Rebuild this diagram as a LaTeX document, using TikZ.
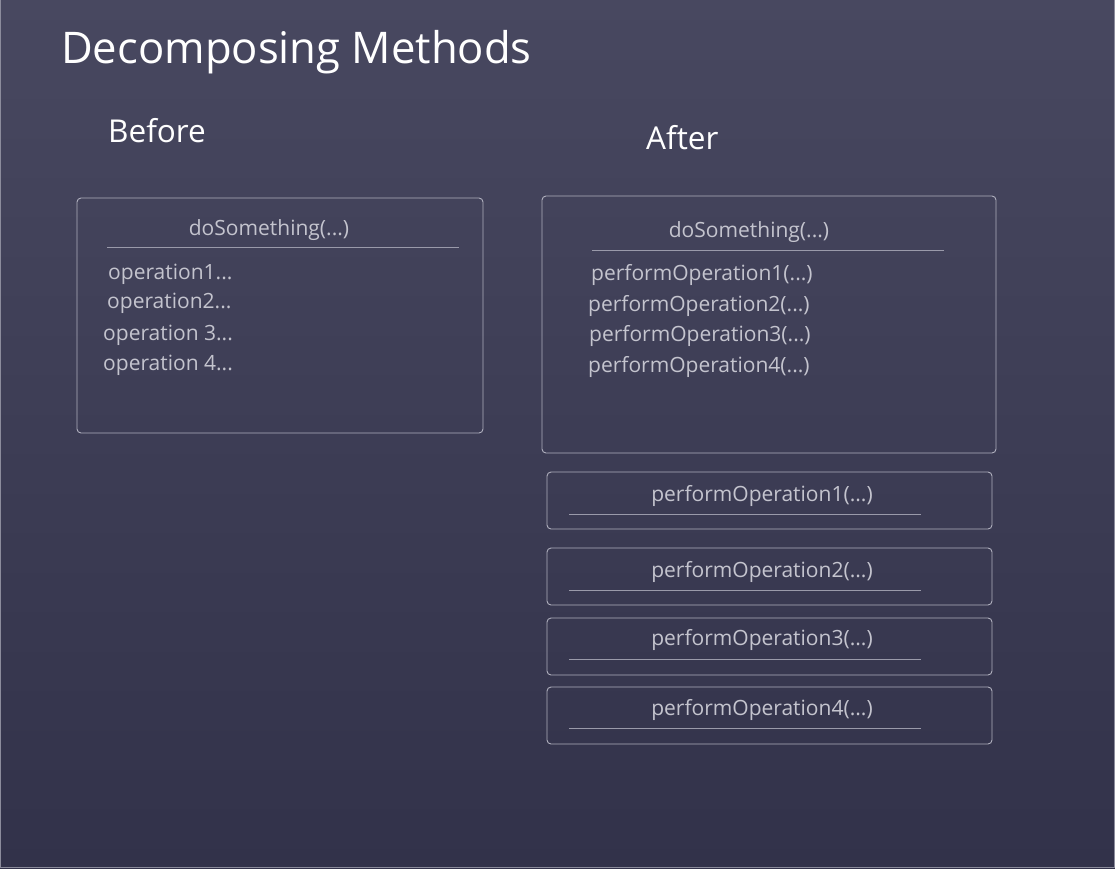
\documentclass[tikz,border=0pt]{standalone}
\usepackage{fontspec}
\setmainfont{Open Sans}
\definecolor{bgtop}{HTML}{484860}
\definecolor{bgbot}{HTML}{32324A}
\definecolor{boxline}{HTML}{B0B0BE}
\definecolor{sepline}{HTML}{9A9AAA}
\definecolor{txt}{HTML}{C4C4CE}
\definecolor{edge}{HTML}{8C8C9C}
\tikzset{
  panel/.style={draw=boxline, line width=0.9pt, rounded corners=4pt, inner sep=0pt, outer sep=0pt, anchor=north west},
  sep/.style={draw=sepline, line width=0.9pt},
  body/.style={text=txt, inner sep=0pt, font=\fontsize{21}{25}\selectfont},
  head/.style={text=white, inner sep=0pt, font=\fontsize{31.5}{36}\selectfont},
}
\begin{document}
\begin{tikzpicture}[x=1pt,y=-1pt]
\useasboundingbox (0,0) rectangle (1115,868);
\shade[top color=bgtop, bottom color=bgbot] (0,0) rectangle (1115,868);
\draw[edge, line width=1.2pt] (0.6,0) -- (0.6,867.4) -- (1114.4,867.4) -- (1114.4,0);

\node[text=white, inner sep=0pt, anchor=base west, font=\fontsize{43.6}{50}\selectfont] (title) at (61,63) {Decomposing Methods};
\node[head, anchor=base west] (before) at (108,142) {Before};
\node[head, anchor=base west] (after) at (646,149) {After};

% Before box
\node[panel, minimum width=406pt, minimum height=235pt] (bbox) at (77,198) {};
\node[body, anchor=base] (bdo) at (269,235) {doSomething(...)};
\draw[sep] (107,247) -- (459,247);
\node[body, anchor=base west] (bo1) at (108,279) {operation1...};
\node[body, anchor=base west] (bo2) at (107,308) {operation2...};
\node[body, anchor=base west] (bo3) at (103,340) {operation 3...};
\node[body, anchor=base west] (bo4) at (103,370) {operation 4...};

% After box
\node[panel, minimum width=454pt, minimum height=257pt] (abox) at (542,196) {};
\node[body, anchor=base] (ado) at (749,237) {doSomething(...)};
\draw[sep] (592,250) -- (944,250);
\node[body, anchor=base west] (ao1) at (591,280) {performOperation1(...)};
\node[body, anchor=base west] (ao2) at (588,311) {performOperation2(...)};
\node[body, anchor=base west] (ao3) at (589,341) {performOperation3(...)};
\node[body, anchor=base west] (ao4) at (588,372) {performOperation4(...)};

% Extracted methods
\node[panel, minimum width=445pt, minimum height=57pt] (m1) at (547,472) {};
\node[body, anchor=base] (t1) at (762,501) {performOperation1(...)};
\draw[sep] (569,514) -- (921,514);

\node[panel, minimum width=445pt, minimum height=57pt] (m2) at (547,548) {};
\node[body, anchor=base] (t2) at (762,577) {performOperation2(...)};
\draw[sep] (569,590) -- (921,590);

\node[panel, minimum width=445pt, minimum height=57pt] (m3) at (547,618) {};
\node[body, anchor=base] (t3) at (762,645) {performOperation3(...)};
\draw[sep] (569,659) -- (921,659);

\node[panel, minimum width=445pt, minimum height=57pt] (m4) at (547,687) {};
\node[body, anchor=base] (t4) at (762,715) {performOperation4(...)};
\draw[sep] (569,728) -- (921,728);
\end{tikzpicture}
\end{document}
